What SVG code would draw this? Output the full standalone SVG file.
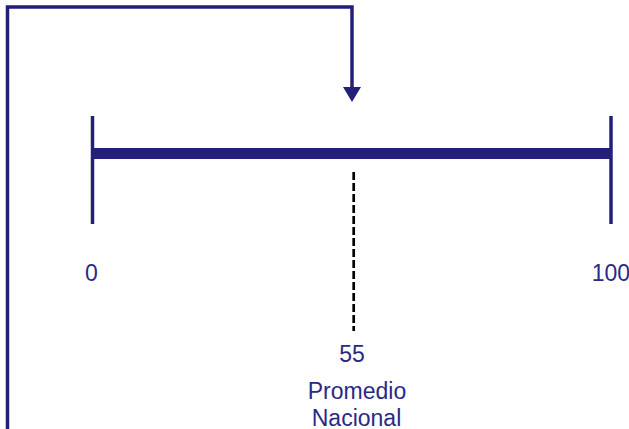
<svg xmlns="http://www.w3.org/2000/svg" width="629" height="429" viewBox="0 0 629 429">
  <defs>
    <style>
      .ln { stroke: #23207A; fill: none; stroke-linecap: butt; }
      .lbl { font-family: "Liberation Sans", Arial, sans-serif; font-size: 23px; fill: #2A2A86; }
    </style>
  </defs>
  <rect width="629" height="429" fill="#ffffff"/>
  <g id="connectors">
    <polyline class="ln" stroke-width="3.5" points="7.5,429 7.5,7 352,7 352,88"/>
    <path d="M343,87 L361,87 L352,102 Z" fill="#23207A"/>
    <line x1="353.7" y1="172" x2="353.7" y2="331" stroke="#000000" stroke-width="2.7" stroke-dasharray="8,3"/>
  </g>
  <g id="scale">
    <line class="ln" x1="92" y1="153.5" x2="611" y2="153.5" stroke-width="11"/>
    <line class="ln" x1="92.5" y1="116" x2="92.5" y2="224" stroke-width="3.5"/>
    <line class="ln" x1="611" y1="116" x2="611" y2="224" stroke-width="3.5"/>
  </g>
  <g id="label-0"><text class="lbl" x="91.5" y="281" text-anchor="middle">0</text></g>
  <g id="label-100"><text class="lbl" x="630" y="281" text-anchor="end">100</text></g>
  <g id="label-55">
    <text class="lbl" x="352" y="361.5" text-anchor="middle">55</text>
    <text class="lbl" x="357" y="398.5" text-anchor="middle">Promedio</text>
    <text class="lbl" x="356.5" y="425.5" text-anchor="middle">Nacional</text>
  </g>
</svg>
